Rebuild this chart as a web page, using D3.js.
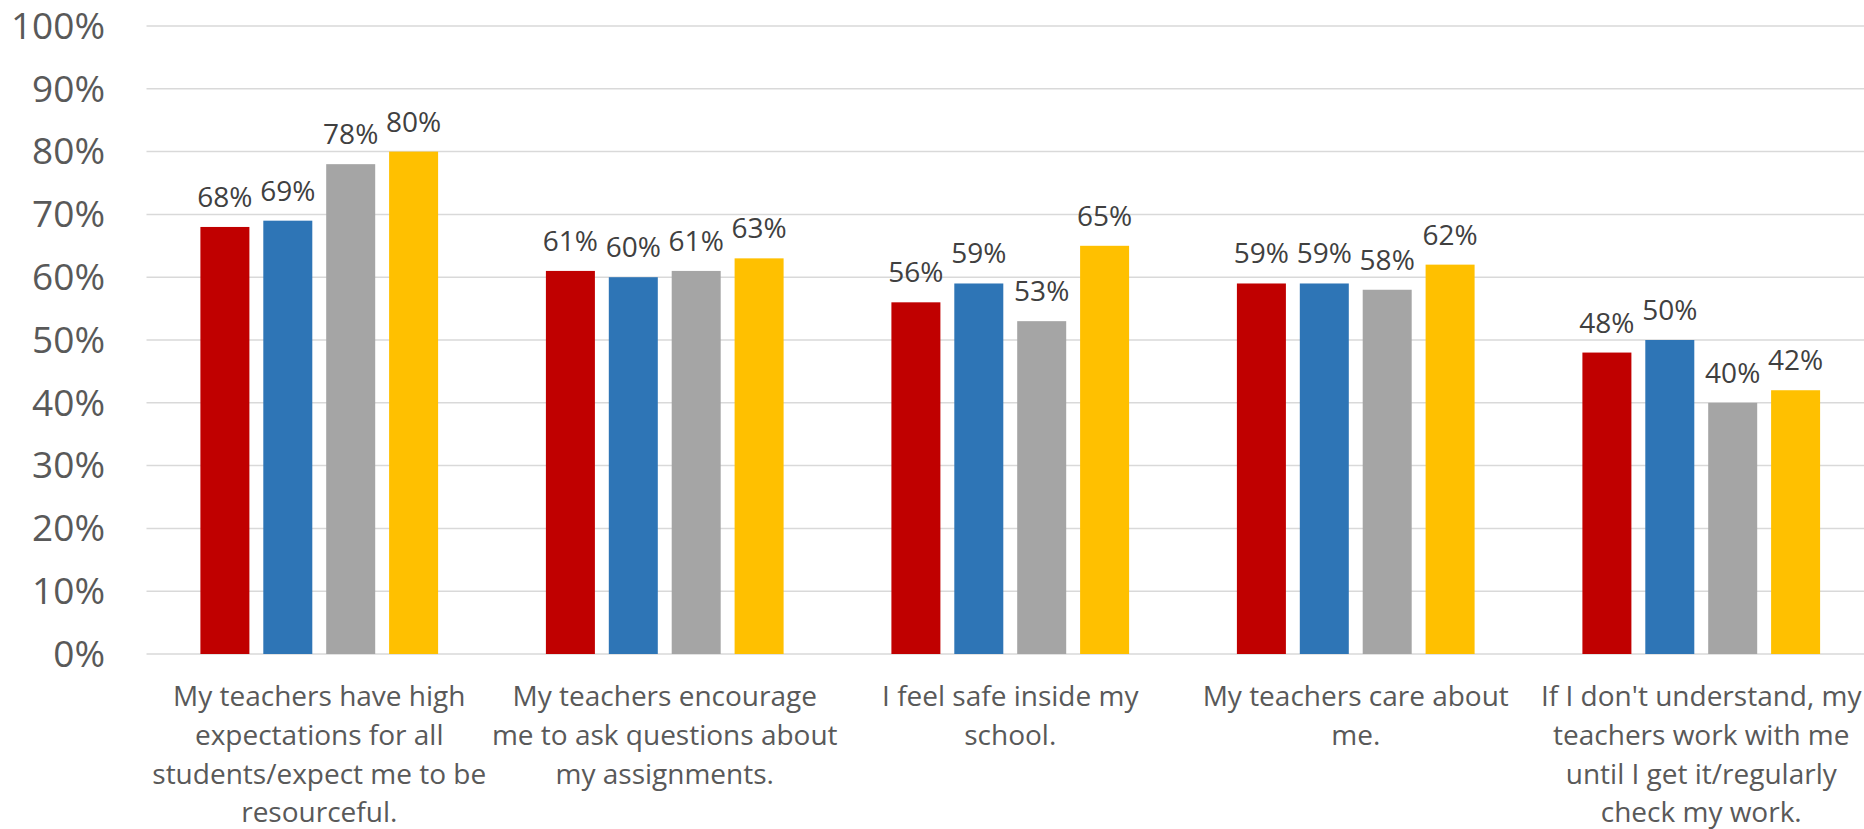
<!DOCTYPE html>
<html>
<head>
<meta charset="utf-8">
<script src="https://cdn.jsdelivr.net/npm/d3@7"></script>
<style>
  html, body { margin: 0; padding: 0; background: #ffffff; overflow: hidden; }
  svg { display: block; }
  text { font-family: "Open Sans", sans-serif; }
</style>
</head>
<body>
<svg id="chart" width="1864" height="829"></svg>
<script>
// ---- data ----
const categories = [
  "My teachers have high expectations for all students/expect me to be resourceful.",
  "My teachers encourage me to ask questions about my assignments.",
  "I feel safe inside my school.",
  "My teachers care about me.",
  "If I don't understand, my teachers work with me until I get it/regularly check my work."
];
const categoryLines = [
  ["My teachers have high", "expectations for all", "students/expect me to be", "resourceful."],
  ["My teachers encourage", "me to ask questions about", "my assignments."],
  ["I feel safe inside my", "school."],
  ["My teachers care about", "me."],
  ["If I don't understand, my", "teachers work with me", "until I get it/regularly", "check my work."]
];
const seriesNames = ["Series 1", "Series 2", "Series 3", "Series 4"];
const series1 = [0.68, 0.61, 0.56, 0.59, 0.48];
const series2 = [0.69, 0.60, 0.59, 0.59, 0.50];
const series3 = [0.78, 0.61, 0.53, 0.58, 0.40];
const series4 = [0.80, 0.63, 0.65, 0.62, 0.42];
const seriesColors = ["#C00000", "#2E75B6", "#A5A5A5", "#FFC000"];
const yTicks = [0, 0.1, 0.2, 0.3, 0.4, 0.5, 0.6, 0.7, 0.8, 0.9, 1.0];

// ---- layout ----
const svg = d3.select("#chart");
const W = 1864;
const plotLeft = 146.5, plotTop = 26, plotBottom = 654;
const groupStep = 345.5;
const plotRight = plotLeft + groupStep * categories.length;

const allSeries = [series1, series2, series3, series4];

const x0 = d3.scaleBand().domain(categories).range([plotLeft, plotRight]).padding(0);
const x1 = d3.scaleBand().domain(seriesNames).range([0, x0.bandwidth()])
  .paddingInner(0.221).paddingOuter(0.857);
const y = d3.scaleLinear().domain([0, 1]).range([plotBottom, plotTop]);
const fmt = d3.format(".0%");

// gridlines
svg.append("g").selectAll("line").data(yTicks).join("line")
  .attr("x1", plotLeft).attr("x2", W)
  .attr("y1", d => y(d)).attr("y2", d => y(d))
  .attr("stroke", "#d9d9d9").attr("stroke-width", 1.5);

// y axis labels
const yAxis = d3.axisLeft(y).tickValues(yTicks).tickFormat(fmt).tickSize(0).tickPadding(0);
const gy = svg.append("g").attr("transform", `translate(105,0)`).call(yAxis);
gy.select(".domain").remove();
gy.selectAll("text")
  .attr("fill", "#595959")
  .style("font-size", "37px")
  .attr("dy", "0.33em");

// bars
const groups = svg.append("g").selectAll("g").data(categories).join("g")
  .attr("transform", d => `translate(${x0(d)},0)`);

groups.each(function(cat, ci) {
  const g = d3.select(this);
  const vals = allSeries.map((s, si) => ({ name: seriesNames[si], v: s[ci], c: seriesColors[si] }));
  g.selectAll("rect").data(vals).join("rect")
    .attr("x", d => x1(d.name))
    .attr("y", d => y(d.v))
    .attr("width", x1.bandwidth())
    .attr("height", d => y(0) - y(d.v))
    .attr("fill", d => d.c);
  g.selectAll("text.lbl").data(vals).join("text")
    .attr("class", "lbl")
    .attr("x", d => x1(d.name) + x1.bandwidth() / 2)
    .attr("y", d => y(d.v) - 20)
    .attr("text-anchor", "middle")
    .attr("fill", "#404040")
    .style("font-size", "28px")
    .text(d => fmt(d.v));
});

// category labels
const cat = svg.append("g").selectAll("text").data(categories).join("text")
  .attr("x", d => x0(d) + x0.bandwidth() / 2)
  .attr("y", 706)
  .attr("text-anchor", "middle")
  .attr("fill", "#595959")
  .style("font-size", "28px");
cat.each(function(d, i) {
  d3.select(this).selectAll("tspan").data(categoryLines[i]).join("tspan")
    .attr("x", x0(d) + x0.bandwidth() / 2)
    .attr("dy", (l, j) => j === 0 ? 0 : 38.8)
    .text(l => l);
});
</script>
</body>
</html>
